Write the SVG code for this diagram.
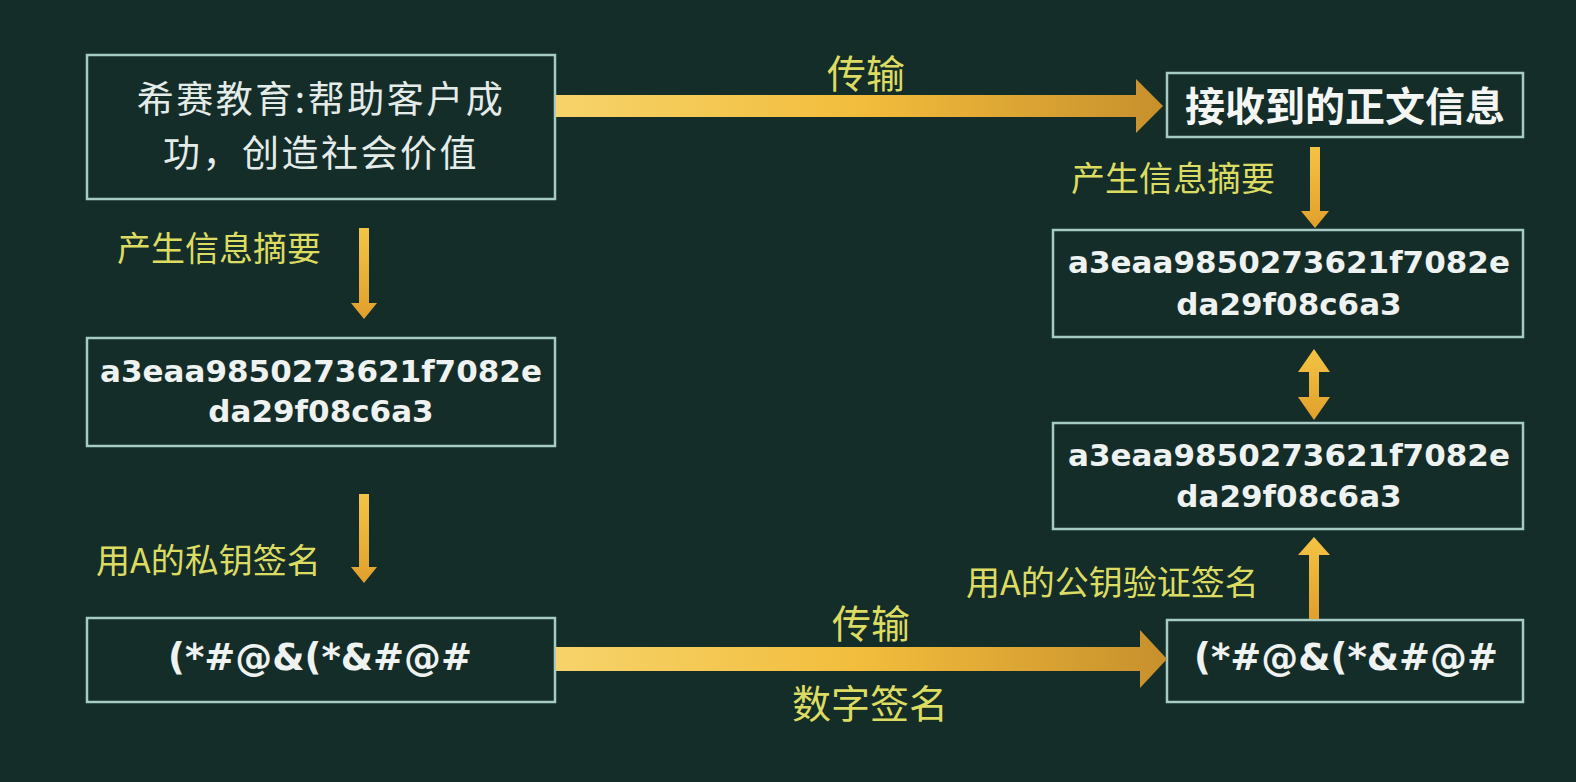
<svg xmlns="http://www.w3.org/2000/svg" width="1576" height="782" viewBox="0 0 1576 782">
<defs>
<linearGradient id="bigArrow" x1="0" y1="0" x2="1" y2="0">
<stop offset="0" stop-color="#f6d36a"/>
<stop offset="0.5" stop-color="#f2bd3c"/>
<stop offset="1" stop-color="#c8902c"/>
</linearGradient>
<linearGradient id="smallArrow" x1="0" y1="0" x2="0" y2="1">
<stop offset="0" stop-color="#f4c444"/>
<stop offset="1" stop-color="#e0a02c"/>
</linearGradient>
<style>
.box{fill:none;stroke:#a6cbc4;stroke-width:2.5}
.cn{font-family:"Noto Sans CJK SC","Noto Sans",sans-serif;fill:#e4ecea;text-anchor:middle}
.cnb{font-family:"Noto Sans CJK SC","Noto Sans",sans-serif;fill:#f4f6f4;text-anchor:middle;font-weight:bold}
.hash{font-family:"DejaVu Sans",sans-serif;font-weight:bold;font-size:31px;fill:#eef2f0;text-anchor:middle}
.sym{font-family:"DejaVu Sans",sans-serif;font-weight:bold;font-size:37px;fill:#eef2f0;text-anchor:middle}
.lbl{font-family:"Noto Sans CJK SC","Noto Sans",sans-serif;fill:#dcdc62;font-size:34px}
.lblb{font-family:"Noto Sans CJK SC","Noto Sans",sans-serif;fill:#dcdc62;font-size:39px;text-anchor:middle}
.sa{fill:url(#smallArrow)}
.ba{fill:url(#bigArrow)}
</style>
</defs>
<rect x="0" y="0" width="1576" height="782" fill="#152d29"/>

<g id="node-plaintext">
<rect class="box" x="87" y="55" width="468" height="144"/>
<text class="cn" x="321" y="113" font-size="37" letter-spacing="2.5">希赛教育:帮助客户成</text>
<text class="cn" x="321" y="167" font-size="37" letter-spacing="2.5">功，创造社会价值</text>
</g>

<g id="node-hash-left">
<rect class="box" x="87" y="338" width="468" height="108"/>
<text class="hash" x="321" y="382">a3eaa9850273621f7082e</text>
<text class="hash" x="321" y="422">da29f08c6a3</text>
</g>

<g id="node-sig-left">
<rect class="box" x="87" y="618" width="468" height="84"/>
<text class="sym" x="320" y="670">(*#@&amp;(*&amp;#@#</text>
</g>

<g id="node-received">
<rect class="box" x="1167" y="73" width="356" height="64"/>
<text class="cnb" x="1345" y="121" font-size="40">接收到的正文信息</text>
</g>

<g id="node-hash-right1">
<rect class="box" x="1053" y="230" width="470" height="107"/>
<text class="hash" x="1289" y="273">a3eaa9850273621f7082e</text>
<text class="hash" x="1289" y="315">da29f08c6a3</text>
</g>

<g id="node-hash-right2">
<rect class="box" x="1053" y="423" width="470" height="106"/>
<text class="hash" x="1289" y="466">a3eaa9850273621f7082e</text>
<text class="hash" x="1289" y="507">da29f08c6a3</text>
</g>

<g id="node-sig-right">
<rect class="box" x="1167" y="620" width="356" height="82"/>
<text class="sym" x="1346" y="670">(*#@&amp;(*&amp;#@#</text>
</g>

<g id="connectors">
<polygon class="ba" points="556,95 1136,95 1136,79 1163,106 1136,133 1136,117 556,117"/>
<text class="lblb" x="866" y="88">传输</text>
<polygon class="ba" points="556,647 1140,647 1140,630 1167,659 1140,688 1140,671 556,671"/>
<text class="lblb" x="871" y="638">传输</text>
<text class="lblb" x="870" y="718">数字签名</text>
<polygon class="sa" points="359,228 369,228 369,303 377,303 364,319 351,303 359,303"/>
<text class="lbl" x="117" y="261">产生信息摘要</text>
<polygon class="sa" points="359,494 369,494 369,567 377,567 364,583 351,567 359,567"/>
<text class="lbl" x="96" y="573">用A的私钥签名</text>
<polygon class="sa" points="1310,147 1320,147 1320,211 1329,211 1315,228 1301,211 1310,211"/>
<text class="lbl" x="1071" y="191">产生信息摘要</text>
<polygon class="sa" points="1314,349 1330,372 1319,372 1319,397 1330,397 1314,420 1298,397 1309,397 1309,372 1298,372"/>
<polygon class="sa" points="1314,537 1330,555 1319,555 1319,619 1309,619 1309,555 1298,555"/>
<text class="lbl" x="966" y="595" font-size="35">用A的公钥验证签名</text>
</g>
</svg>
